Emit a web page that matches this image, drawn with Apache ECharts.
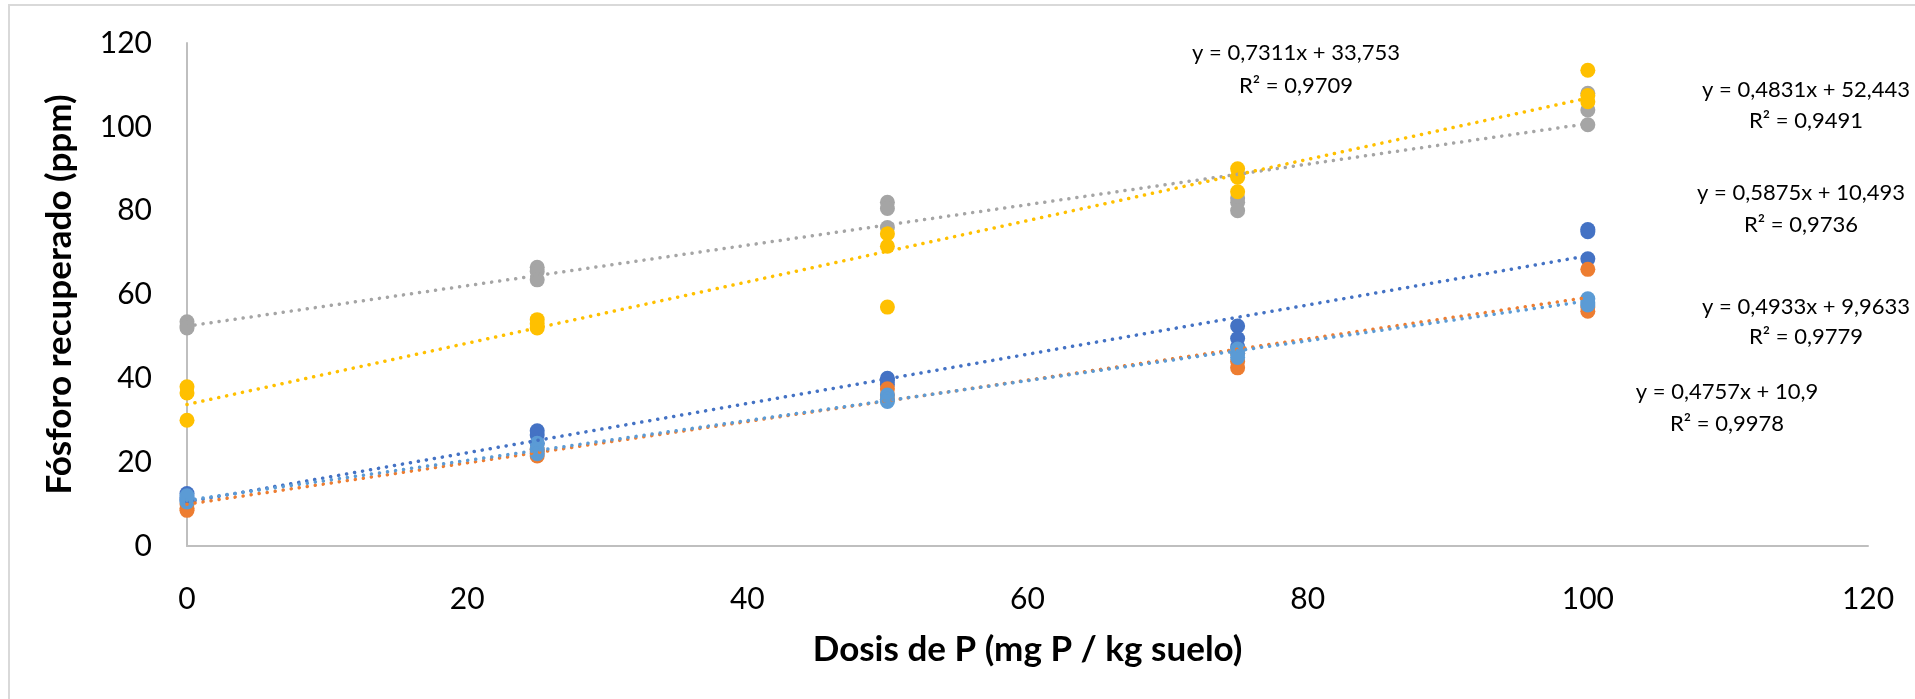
<!DOCTYPE html>
<html>
<head>
<meta charset="utf-8">
<script src="https://cdn.jsdelivr.net/npm/echarts@6/dist/echarts.min.js"></script>
<style>
html,body{margin:0;padding:0;background:#fff;}
#c{width:1915px;height:699px;}
</style>
</head>
<body>
<div id="c"></div>
<script>
// ---- data ----
const doses = [0, 25, 50, 75, 100];
const xTicks = [0, 20, 40, 60, 80, 100, 120];
const yTicks = [0, 20, 40, 60, 80, 100, 120];
const seriesNames = ['Serie 1', 'Serie 2', 'Serie 3', 'Serie 4', 'Serie 5'];
const colors = ['#4472C4', '#ED7D31', '#A5A5A5', '#FFC000', '#5B9BD5'];
// replicate values per dose (rows follow doses)
const serie1 = [[12.5, 11.5, 11], [27.5, 26.5, 24.5], [40, 39.5, 38.5], [52.5, 49.5, 47.5], [75.5, 75, 68.5]];
const serie2 = [[9, 8.5, 10], [23, 22.5, 21.5], [37.5, 36, 35], [46, 44, 42.5], [66, 57, 56]];
const serie3 = [[53.5, 52.5, 52], [66.5, 65.5, 63.5], [82, 80.5, 76], [83, 82, 80], [108, 104, 100.5]];
const serie4 = [[38, 36.5, 30], [54, 53, 52], [74.5, 71.5, 57], [90, 88, 84.5], [113.5, 107.5, 106]];
const serie5 = [[11, 10.5, 12], [24.5, 23, 22], [36, 35, 34.5], [47, 46, 45], [59, 58, 57.5]];
const slopes = [0.5875, 0.4933, 0.4831, 0.7311, 0.4757];
const intercepts = [10.493, 9.9633, 52.443, 33.753, 10.9];
const eqText = ['y = 0,5875x + 10,493', 'y = 0,4933x + 9,9633', 'y = 0,4831x + 52,443', 'y = 0,7311x + 33,753', 'y = 0,4757x + 10,9'];
const r2Text = ['R² = 0,9736', 'R² = 0,9779', 'R² = 0,9491', 'R² = 0,9709', 'R² = 0,9978'];

// ---- layout (positions of equation labels, px) ----
const eqPos = [[1801, 193, 225], [1806, 307, 337], [1806, 90, 121], [1296, 53, 86], [1727, 392, 424]];

const allSeries = [serie1, serie2, serie3, serie4, serie5];
const FONT = 'Lato';

const series = [];
allSeries.forEach((s, i) => {
  const pts = [];
  s.forEach((reps, k) => reps.forEach(v => pts.push([doses[k], v])));
  series.push({
    name: seriesNames[i], type: 'scatter', data: pts, symbolSize: 15,
    itemStyle: {color: colors[i], opacity: 1}, z: 2 + i, silent: true
  });
});
allSeries.forEach((s, i) => {
  const x0 = doses[0], x1 = doses[doses.length - 1];
  series.push({
    type: 'line', data: [[x0, slopes[i] * x0 + intercepts[i]], [x1, slopes[i] * x1 + intercepts[i]]],
    symbol: 'none', z: 10, silent: true,
    lineStyle: {color: colors[i], width: 3.5, type: [0.1, 8], cap: 'round'}
  });
});

const graphics = [{
  type: 'rect', shape: {x: 9, y: 5, width: 2000, height: 2000},
  style: {fill: 'none', stroke: '#D9D9D9', lineWidth: 2}, z: 0, silent: true
}];
eqPos.forEach((p, i) => {
  graphics.push({type: 'text', x: p[0], y: p[1], style: {text: eqText[i], font: '22px ' + FONT, fill: '#000', textAlign: 'center', textVerticalAlign: 'middle'}, z: 20});
  graphics.push({type: 'text', x: p[0], y: p[2], style: {text: r2Text[i], font: '22px ' + FONT, fill: '#000', textAlign: 'center', textVerticalAlign: 'middle'}, z: 20});
});

const chart = echarts.init(document.getElementById('c'), null, {renderer: 'canvas'});
chart.setOption({
  animation: false,
  backgroundColor: '#fff',
  grid: {left: 187, right: 47, top: 43, bottom: 153},
  xAxis: {
    type: 'value', min: xTicks[0], max: xTicks[xTicks.length - 1], interval: 20,
    name: 'Dosis de P (mg P / kg suelo)', nameLocation: 'middle', nameGap: 86,
    nameTextStyle: {fontFamily: FONT, fontWeight: 'bold', fontSize: 35, color: '#000'},
    axisLine: {show: true, lineStyle: {color: '#BFBFBF', width: 2}},
    axisTick: {show: false}, splitLine: {show: false},
    axisLabel: {fontFamily: FONT, fontSize: 30, color: '#000', margin: 38}
  },
  yAxis: {
    type: 'value', min: yTicks[0], max: yTicks[yTicks.length - 1], interval: 20,
    name: 'Fósforo recuperado (ppm)', nameLocation: 'middle', nameGap: 110,
    nameTextStyle: {fontFamily: FONT, fontWeight: 'bold', fontSize: 35, color: '#000'},
    axisLine: {show: true, lineStyle: {color: '#BFBFBF', width: 2}},
    axisTick: {show: false}, splitLine: {show: false},
    axisLabel: {fontFamily: FONT, fontSize: 30, color: '#000', margin: 35}
  },
  series: series,
  graphic: graphics
});
</script>
</body>
</html>
